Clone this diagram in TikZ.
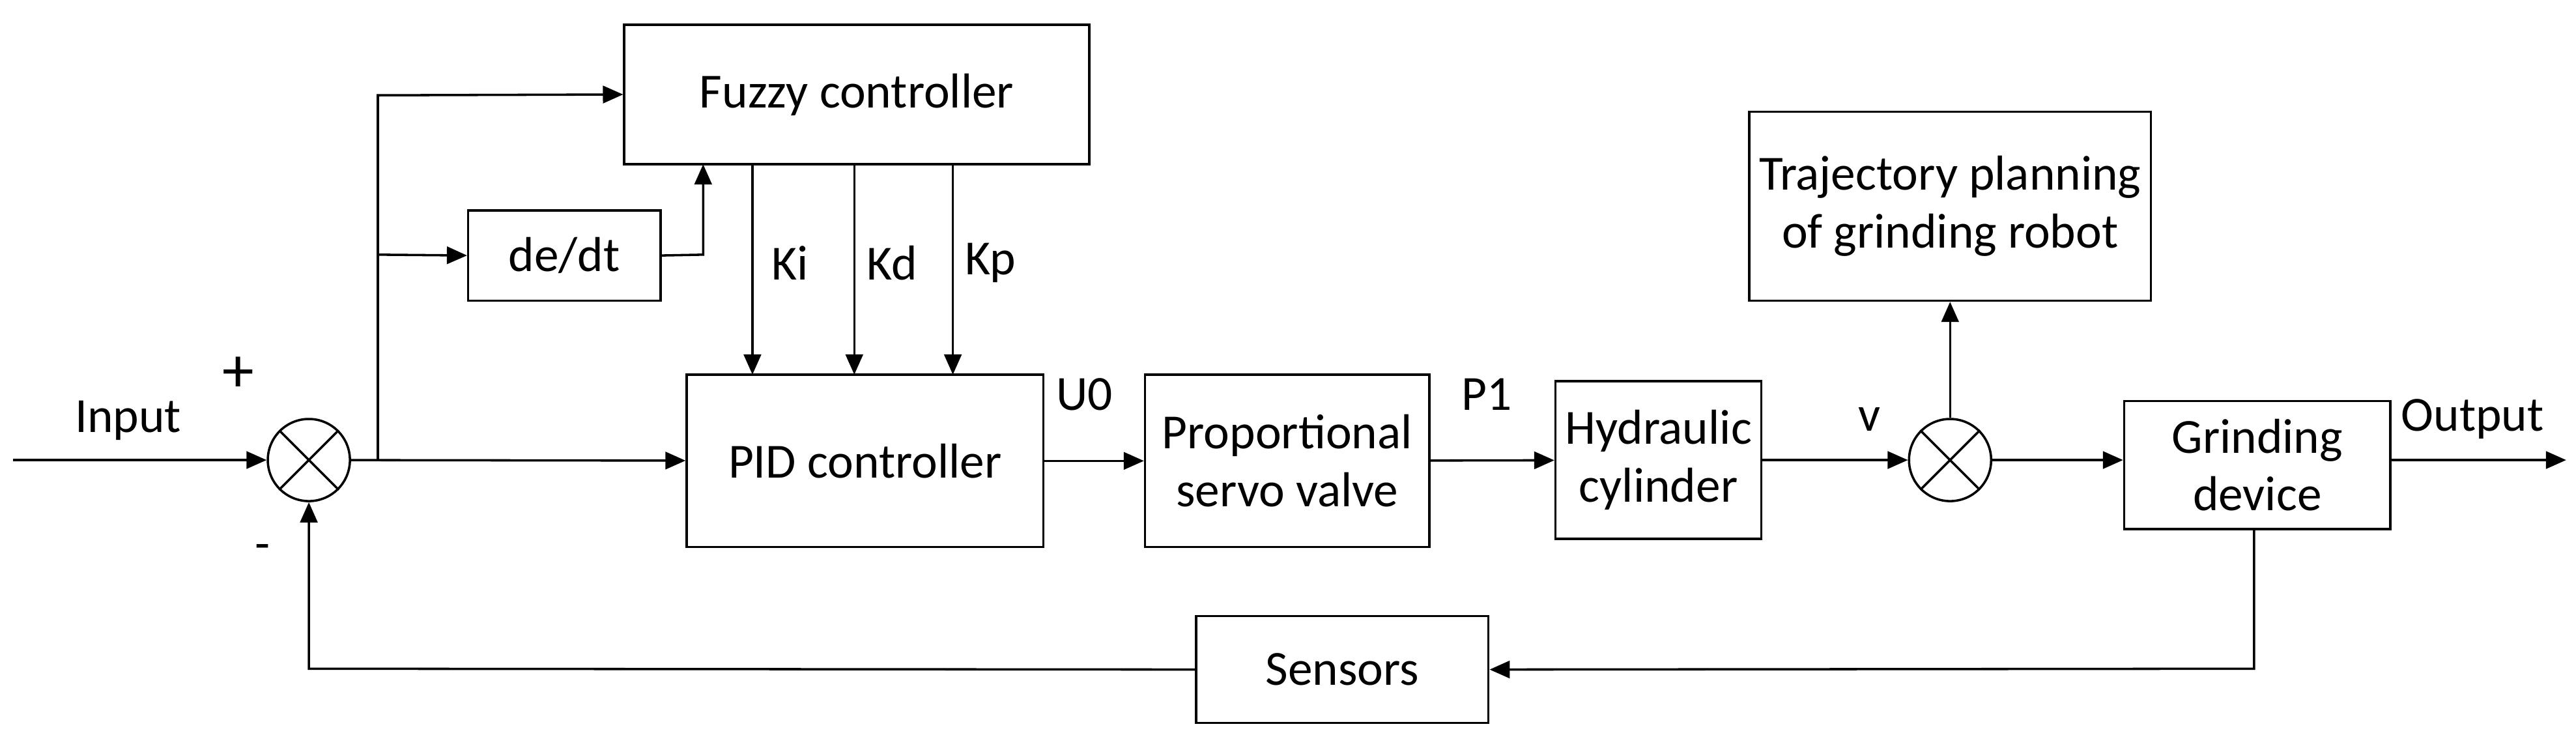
\documentclass[tikz,border=0pt]{standalone}
\usepackage{fontspec}
\setmainfont{Carlito}
\usetikzlibrary{arrows.meta,shapes.misc}
\begin{document}
\begin{tikzpicture}[x=0.02cm,y=-0.02cm,
 box/.style={draw,thick,minimum width=0,align=center,font=\fontsize{17}{20}\selectfont},
 lab/.style={font=\fontsize{17}{20}\selectfont},
 sum/.style={draw,thick,cross out,circle,minimum size=1cm},
 sumc/.style={draw,thick,circle,minimum size=1cm},
 >={Triangle[length=7pt,width=6pt]}, line width=0.8pt]
\useasboundingbox (0,0) rectangle (1568,455);
\tikzset{bx/.style n args={4}{box,minimum width={(#3-#1)*0.02cm},minimum height={(#4-#2)*0.02cm}}}
\node[bx={380}{15}{663}{100}] (fz) at (521.5,57.5) {Fuzzy controller};
\node[bx={285}{128}{402}{183}] (de) at (343.5,155.5) {de/dt};
\node[bx={418}{228}{635}{333}] (pid) at (526.5,280.5) {PID controller};
\node[bx={697}{228}{870}{333}] (pv) at (783.5,280.5) {Proportional\\servo valve};
\node[bx={947}{232}{1072}{328}] (hc) at (1009.5,280) {Hydraulic\\cylinder};
\node[bx={1066}{68}{1308}{183}] (tp) at (1187,125.5) {Trajectory planning\\of grinding robot};
\node[bx={1293}{244}{1455}{322}] (gd) at (1374,283) {Grinding\\device};
\node[bx={728}{375}{906}{440}] (se) at (817,407.5) {Sensors};
\node[sumc] (s1) at (188,280) {};
\node[sumc] (s2) at (1187,280) {};
\foreach \s in {s1,s2}{\draw[thick] (\s.north east)--(\s.south west) (\s.north west)--(\s.south east);}
\coordinate (in) at (8,280);
\coordinate (out) at (1562,280);
\draw[->] (in) -- (s1);
\draw[->] (s1) -- (pid);
\draw[->] (230,280) -- (230,58) -- (fz.west);
\draw[->] (230,155) -- (de.west);
\draw[->] (de.east) -- (428,155) -- (428,100);
\foreach \x/\t in {458/Ki,520/Kd,580/Kp}{
 \draw[->] (\x,100) -- (\x,228);
 \node[lab] at (\x+23,160) {\t};}
\draw[->] (pid) -- (pv);
\draw[->] (pv) -- (hc);
\draw[->] (hc) -- (s2);
\draw[->] (s2) -- (tp);
\draw[->] (s2) -- (gd.west|-s2);
\draw[->] (gd.east|-out) -- (out);
\draw[->] (1372,322) -- (1372,407) -- (se.east);
\draw[->] (se.west) -- (188,407) -- (s1.south);
\node[lab] at (78,256) {Input};
\node[lab,font=\fontsize{22}{24}\selectfont] at (145,228) {+};
\node[lab] at (160,336) {-};
\node[lab] at (660,240) {U0};
\node[lab] at (905,240) {P1};
\node[lab] at (1138,255) {v};
\node[lab] at (1505,255) {Output};
\end{tikzpicture}
\end{document}
